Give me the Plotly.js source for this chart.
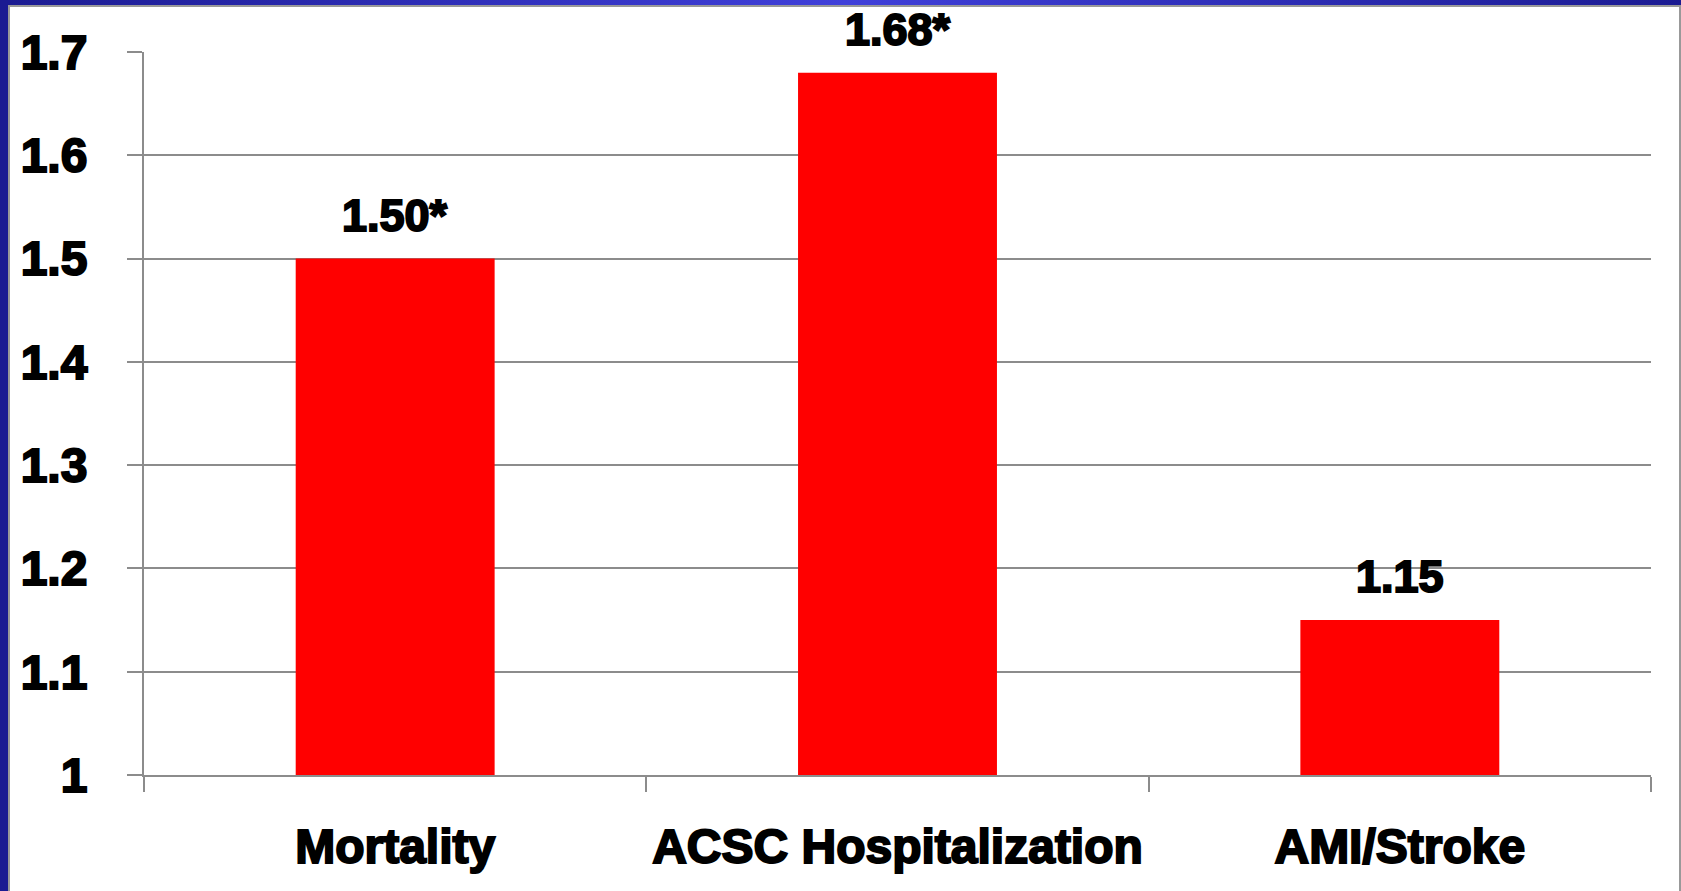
<!DOCTYPE html>
<html>
<head>
<meta charset="utf-8">
<script src="https://cdn.plot.ly/plotly-3.0.1.min.js"></script>
<style>
  html, body { margin:0; padding:0; width:1681px; height:891px; overflow:hidden; background:#1b1b92; }
  #frame { position:absolute; left:0; top:0; width:1681px; height:891px; background:#1b1b92; }
  #card { position:absolute; left:8px; top:5px; width:1673px; height:886px; box-sizing:border-box;
    background:#fff; border-left:2px solid #999; border-top:2px solid #999; border-right:2px solid #999; }
  #topbar { position:absolute; left:8px; top:0; width:1673px; height:5px;
    background: linear-gradient(90deg, #1b1b92 0%, #4040da 50%, #1b1b92 100%); }
  #chart { position:absolute; left:0; top:0; width:1681px; height:891px; }
  #chart .xtick text, #chart .ytick text, #chart .annotation-text { stroke:#000; stroke-width:2px; }
</style>
</head>
<body>
<div id="frame"></div>
<div id="topbar"></div>
<div id="card"></div>
<div id="chart"></div>
<script>
const categories = ["Mortality", "ACSC Hospitalization", "AMI/Stroke"];
const values = [1.50, 1.68, 1.15];
const valueLabels = ["1.50*", "1.68*", "1.15"];
const yTickValues = [1, 1.1, 1.2, 1.3, 1.4, 1.5, 1.6, 1.7];
const yTickLabels = ["1", "1.1", "1.2", "1.3", "1.4", "1.5", "1.6", "1.7"];

const fontFam = "Liberation Sans, Arial, sans-serif";
const data = [{
  type: "bar",
  x: categories,
  y: values,
  base: 0,
  marker: { color: "#ff0000" },
  hoverinfo: "skip"
}];

const annotations = categories.map((c, i) => ({
  x: c, y: values[i], xref: "x", yref: "y",
  text: valueLabels[i], showarrow: false,
  yanchor: "bottom", yshift: 16,
  font: { family: fontFam, size: 45, color: "#000", weight: "bold" }
}));

const layout = {
  width: 1681, height: 891,
  margin: { l: 144, r: 30, t: 52, b: 116, pad: 0 },
  paper_bgcolor: "rgba(0,0,0,0)",
  plot_bgcolor: "rgba(0,0,0,0)",
  showlegend: false,
  bargap: 0.604,
  font: { family: fontFam, color: "#000" },
  xaxis: {
    type: "category",
    tickson: "boundaries",
    ticks: "outside", ticklen: 15, tickwidth: 2, tickcolor: "#8c8c8c",
    showline: true, linecolor: "#8c8c8c", linewidth: 2,
    showgrid: false, zeroline: false,
    ticklabelstandoff: 28,
    tickfont: { family: fontFam, size: 48, color: "#000", weight: "bold" },
    fixedrange: true
  },
  yaxis: {
    range: [1, 1.7],
    tickvals: yTickValues, ticktext: yTickLabels,
    ticks: "outside", ticklen: 15, tickwidth: 2, tickcolor: "#8c8c8c",
    showline: true, linecolor: "#8c8c8c", linewidth: 2,
    showgrid: true, gridcolor: "#8c8c8c", gridwidth: 2,
    zeroline: false,
    ticklabelstandoff: 30,
    tickfont: { family: fontFam, size: 48, color: "#000", weight: "bold" },
    fixedrange: true
  },
  annotations: annotations
};

Plotly.newPlot("chart", data, layout, { displayModeBar: false, staticPlot: true });
</script>
</body>
</html>
